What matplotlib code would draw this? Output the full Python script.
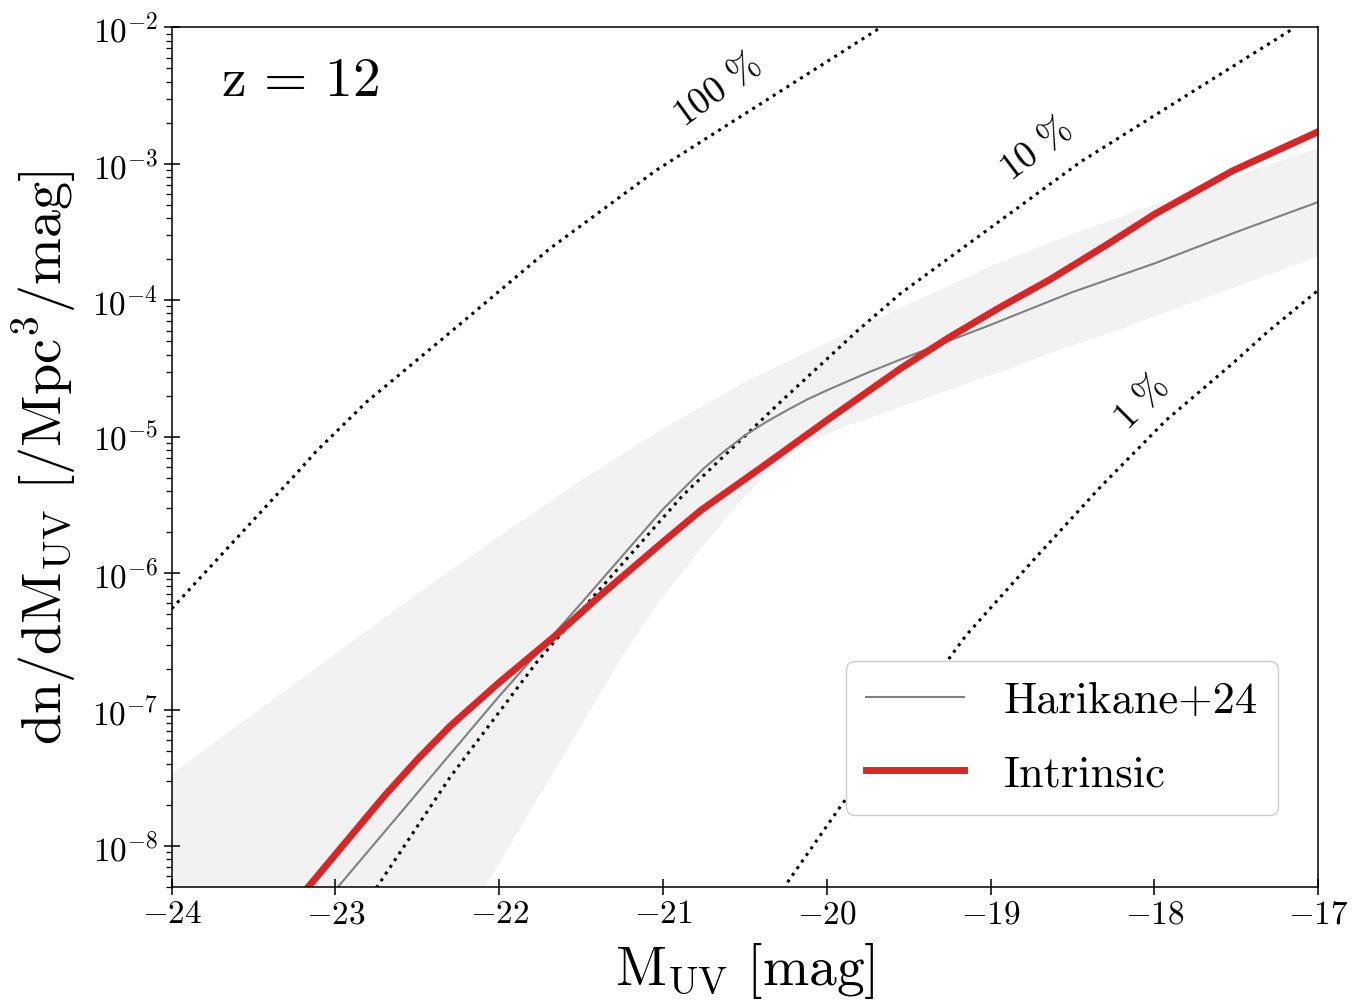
import numpy as np
import matplotlib
matplotlib.use("Agg")
import matplotlib.pyplot as plt
from matplotlib.ticker import LogLocator, MultipleLocator, NullLocator

# Computer Modern look
plt.rcParams["font.family"] = "serif"
plt.rcParams["font.serif"] = ["cmr10"]
plt.rcParams["mathtext.fontset"] = "cm"
plt.rcParams["axes.formatter.use_mathtext"] = True

# --- data (M_UV in mag, values as log10 of dn/dM) ---
# intrinsic UV luminosity function
M_intrinsic = [-23.17, -23.0, -22.7, -22.5, -22.3, -22.0, -21.66, -21.38, -21.0, -20.77,
               -20.37, -20.0, -19.55, -19.25, -18.94, -18.64, -18.3, -18.0, -17.52, -17.0]
logphi_intrinsic = [-8.305, -8.06, -7.63, -7.365, -7.12, -6.80, -6.46, -6.16, -5.77, -5.54,
                    -5.20, -4.88, -4.50, -4.27, -4.05, -3.85, -3.60, -3.37, -3.05, -2.765]

# Harikane+24 fit
M_harikane = [-23.0, -22.5, -22.0, -21.5, -21.0, -20.875, -20.75, -20.625, -20.5, -20.375,
              -20.25, -20.125, -20.0, -19.75, -19.5, -19.0, -18.5, -18.0, -17.5, -17.0]
logphi_harikane = [-8.32, -7.61, -6.90, -6.22, -5.53, -5.38, -5.23, -5.105, -4.99, -4.895,
                   -4.81, -4.73, -4.66, -4.53, -4.41, -4.18, -3.94, -3.73, -3.50, -3.28]

# Harikane+24 uncertainty band
M_band_upper = [-24.0, -23.0, -22.5, -22.0, -21.5, -21.0, -20.5, -20.0, -19.5,
                -19.0, -18.5, -18.0, -17.5, -17.0]
logphi_band_upper = [-7.47, -6.59, -6.15, -5.73, -5.32, -4.94, -4.60, -4.31, -4.03,
                     -3.75, -3.515, -3.30, -3.09, -2.885]
M_band_lower = [-24.0, -22.6, -22.09, -21.66, -21.25, -21.0, -20.775, -20.57, -20.37,
                -20.15, -19.9, -19.5, -18.94, -18.64, -18.23, -17.0]
logphi_band_lower = [-12.0, -9.3, -8.305, -7.44, -6.61, -6.17, -5.83, -5.53, -5.27,
                     -5.07, -4.93, -4.76, -4.525, -4.39, -4.22, -3.68]

# efficiency curves (100 %, 10 %, 1 %)
M_eff100 = [-24.0, -23.22, -23.12, -22.81, -22.32, -21.69, -21.04, -19.67]
logphi_eff100 = [-6.26, -5.245, -5.11, -4.745, -4.256, -3.62, -3.046, -2.0]
M_eff10 = [-22.75, -22.30, -21.77, -21.41, -20.88, -20.27, -19.81, -19.55, -18.45, -17.15]
logphi_eff10 = [-8.305, -7.494, -6.65, -6.15, -5.43, -4.73, -4.22, -3.95, -2.985, -2.007]
M_eff1 = [-20.24, -19.92, -19.15, -18.74, -18.33, -17.93, -17.52, -17.31, -17.0]
logphi_eff1 = [-8.264, -7.714, -6.455, -5.905, -5.368, -4.88, -4.46, -4.232, -3.926]

eff_labels = ["100", "10", "1"]
eff_label_M = [-20.67, -18.72, -18.08]
eff_label_logphi = [-2.46, -2.90, -4.75]
eff_label_rot = [36, 37, 45]

# --- plot ---
fig = plt.figure(figsize=(13.55, 10.07), dpi=100)
ax = fig.add_axes([0.1267, 0.1189, 0.8462, 0.854])

band_x = np.concatenate([M_band_upper, M_band_lower[::-1]])
band_y = 10 ** np.concatenate([logphi_band_upper, logphi_band_lower[::-1]])
ax.fill(band_x, band_y, color="gray", alpha=0.1, lw=0)

for M, lp in [(M_eff100, logphi_eff100), (M_eff10, logphi_eff10), (M_eff1, logphi_eff1)]:
    ax.plot(M, 10 ** np.array(lp), ls=":", color="k", lw=2.2)

ax.plot(M_harikane, 10 ** np.array(logphi_harikane), color="gray", lw=1.5, label="Harikane+24")
ax.plot(M_intrinsic, 10 ** np.array(logphi_intrinsic), color="#d62728", lw=5, label="Intrinsic")

for lab, m, lp, rot in zip(eff_labels, eff_label_M, eff_label_logphi, eff_label_rot):
    ax.text(m, 10 ** lp, r"$\mathrm{" + lab + r"\ \%}$", fontsize=27, rotation=rot,
            rotation_mode="anchor", ha="center", va="center")

ax.text(0.043, 0.936, r"$\mathrm{z}\,=\,12$", transform=ax.transAxes, fontsize=40,
        ha="left", va="center")

ax.set_yscale("log")
ax.set_xlim(-24, -17)
ax.set_ylim(5e-9, 1e-2)
ax.xaxis.set_major_locator(MultipleLocator(1))
ax.xaxis.set_minor_locator(NullLocator())
ax.yaxis.set_major_locator(LogLocator(base=10, numticks=20))
ax.yaxis.set_minor_locator(LogLocator(base=10, subs=np.arange(2, 10), numticks=20))

ax.tick_params(which="major", direction="inout", length=11, width=1.1, labelsize=24, pad=4)
ax.tick_params(which="minor", direction="out", length=4, width=0.9)
for s in ax.spines.values():
    s.set_linewidth(1.1)

ax.set_xlabel(r"$\mathrm{M_{UV}\ [mag]}$", fontsize=40)
ax.set_ylabel(r"$\mathrm{dn/dM_{UV}\ [/Mpc^3/mag]}$", fontsize=40.5)
ax.xaxis.set_label_coords(0.5, -0.062)
ax.yaxis.set_label_coords(-0.08, 0.5)

leg = ax.legend(loc="lower right", bbox_to_anchor=(0.965, 0.084), borderaxespad=0,
                fontsize=32, framealpha=1, handlelength=2.2, handletextpad=0.9,
                borderpad=0.45, labelspacing=0.75)

fig.savefig("out.png", dpi=100)
